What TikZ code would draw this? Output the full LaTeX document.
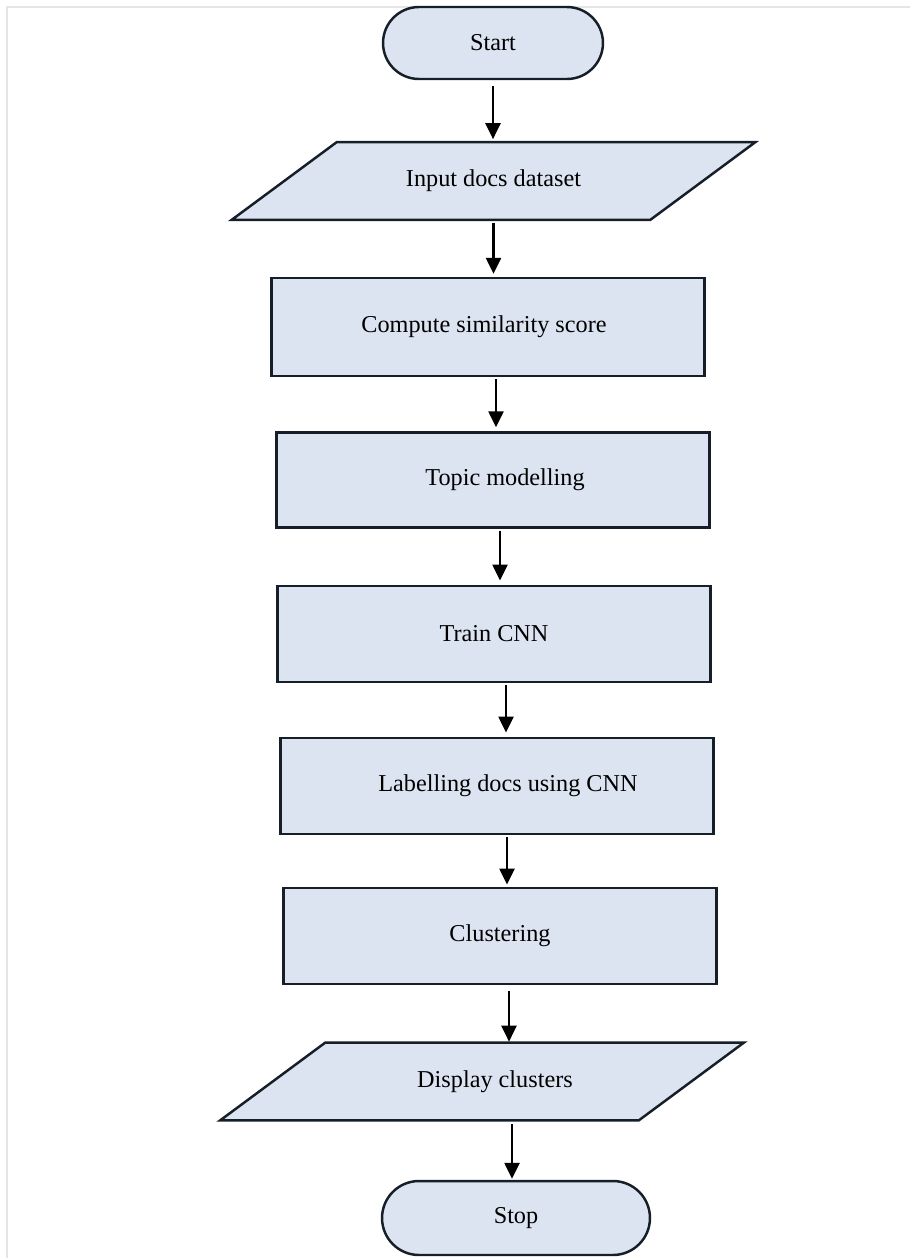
\documentclass[tikz,border=0pt]{standalone}
\usepackage{fontspec}
\setmainfont{Liberation Serif}
\usepackage{tikz}
\usetikzlibrary{positioning,calc,arrows.meta,shapes.misc,backgrounds}
\definecolor{boxfill}{RGB}{219,228,240}
\definecolor{boxline}{RGB}{22,30,40}

\begin{document}
\begin{tikzpicture}[x=0.02cm, y=-0.02cm,
    font=\fontsize{13.8}{16}\selectfont,
    term/.style = {draw=boxline, fill=boxfill, line width=1.4pt, rounded rectangle, inner sep=0pt},
    io/.style = {rectangle, inner sep=0pt, minimum width=8.36cm, minimum height=1.54cm},
    ioline/.style = {draw=boxline, fill=boxfill, line width=1.4pt, line join=miter},
    proc/.style = {draw=boxline, fill=boxfill, line width=1.4pt, rectangle, inner sep=0pt,
                   minimum width=8.66cm, minimum height=1.93cm},
    flow/.style = {-{Triangle[width=0.3cm,length=0.32cm]}, line width=1.4pt, black}]
            \useasboundingbox (0,0) rectangle (910,1258);
            % Frame
            \draw[black!10, line width=1.2pt] (7,1258) -- (7,7) -- (910,7);
            % Nodes
            \node[term, minimum width=4.4cm, minimum height=1.44cm] (start) at (493,43) {Start};
            \node[io] (input) at (493.5,181) {Input docs dataset};
            \node[proc, minimum height=1.96cm] (score) at (488,327) {Compute similarity score\hspace*{0.16cm}};
            \node[proc, minimum height=1.9cm] (topic) at (493,480) {\hspace*{0.48cm}Topic modelling};
            \node[proc] (train) at (494,634) {Train CNN};
            \node[proc] (label) at (497,786) {\hspace*{0.44cm}Labelling docs using CNN};
            \node[proc] (cluster) at (500,936) {Clustering};
            \node[io] (display) at (482,1081.5) {\hspace*{0.52cm}Display clusters};
            \node[term, minimum width=5.36cm, minimum height=1.48cm] (stop) at (516,1218) {Stop};
            % Parallelograms
            \begin{pgfonlayer}{background}
            \foreach \n in {input,display}
                \draw[ioline] ($(\n.north west)+(52.5,0)$) -- ($(\n.north east)+(52.5,0)$)
                    -- ($(\n.south east)+(-52.5,0)$) -- ($(\n.south west)+(-52.5,0)$) -- cycle;
            \end{pgfonlayer}
            % Edges
            \draw[flow] ($(start.south)+(0,6)$) -- ($(start.south |- input.north)+(0,-3)$);
            \draw[flow] ($(input.south)+(0,3)$) -- ($(input.south |- score.north)+(0,-3)$);
            \draw[flow] ($(score.south)+(8,2)$) -- ($(score.south |- topic.north)+(8,-4)$);
            \draw[flow] ($(topic.south)+(7,2)$) -- ($(topic.south |- train.north)+(7,-4)$);
            \draw[flow] ($(train.south)+(12,2)$) -- ($(train.south |- label.north)+(12,-4)$);
            \draw[flow] ($(label.south)+(10,2)$) -- ($(label.south |- cluster.north)+(10,-2)$);
            \draw[flow] ($(cluster.south)+(9,6)$) -- ($(cluster.south |- display.north)+(9,-1)$);
            \draw[flow] ($(display.south)+(30,4)$) -- ($(display.south |- stop.north)+(30,-1)$);
\end{tikzpicture}
\end{document}
